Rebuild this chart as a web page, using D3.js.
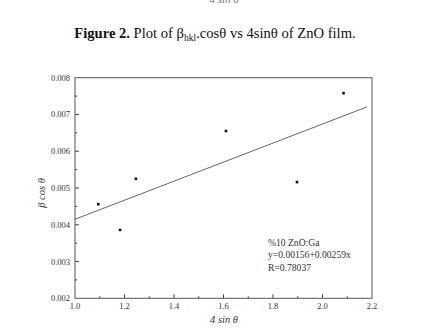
<!DOCTYPE html>
<html lang="en">
<head>
<meta charset="UTF-8">
<script src="https://d3js.org/d3.v7.min.js"></script>
<style>
  body { margin: 0; background: #fff; }
  svg text { font-family: "Liberation Serif", "DejaVu Serif", serif; }
  .tick-label { font-size: 8.5px; fill: #333; }
  .note { font-size: 9.6px; fill: #333; }
</style>
</head>
<body>
<div id="chart"></div>
<script>
  // Data
  const xValues = [1.094, 1.182, 1.246, 1.61, 1.897, 2.085];
  const yValues = [0.00456, 0.00386, 0.00525, 0.00655, 0.00516, 0.00758];
  const fitIntercept = 0.00156;
  const fitSlope = 0.00259;
  const fitRange = [1.0, 2.18];
  const xTicks = [1.0, 1.2, 1.4, 1.6, 1.8, 2.0, 2.2];
  const yTicks = [0.002, 0.003, 0.004, 0.005, 0.006, 0.007, 0.008];
  const notes = ["%10 ZnO:Ga", "y=0.00156+0.00259x", "R=0.78037"];

  const width = 425, height = 328;
  const plotLeft = 75, plotRight = 372, plotTop = 77.7, plotBottom = 298.3;

  const svg = d3.select("#chart").append("svg")
    .attr("width", width)
    .attr("height", height);

  // cut-off label from the figure above
  svg.append("text")
    .attr("x", 224).attr("y", 2.5)
    .attr("text-anchor", "middle")
    .attr("font-style", "italic")
    .attr("font-size", 11)
    .attr("fill", "#777")
    .text("4 sin θ");

  // caption
  const cap = svg.append("text")
    .attr("x", 215).attr("y", 38)
    .attr("text-anchor", "middle")
    .attr("font-size", 14.6)
    .attr("fill", "#111");
  cap.append("tspan").attr("font-weight", "bold").text("Figure 2.");
  cap.append("tspan").text(" Plot of β");
  cap.append("tspan").attr("font-size", 9.5).attr("dy", 3).text("hkl");
  cap.append("tspan").attr("dy", -3).text(".cosθ vs 4sinθ of ZnO film.");

  const x = d3.scaleLinear().domain([1.0, 2.2]).range([plotLeft, plotRight]);
  const y = d3.scaleLinear().domain([0.002, 0.008]).range([plotBottom, plotTop]);

  // frame
  svg.append("rect")
    .attr("x", plotLeft).attr("y", plotTop)
    .attr("width", plotRight - plotLeft).attr("height", plotBottom - plotTop)
    .attr("fill", "none")
    .attr("stroke", "#555")
    .attr("stroke-width", 1);

  // x axis ticks (inward)
  const xMinor = d3.range(1.1, 2.2, 0.2);
  svg.append("g").selectAll("line").data(xTicks.slice(1, -1)).join("line")
    .attr("x1", d => x(d)).attr("x2", d => x(d))
    .attr("y1", plotBottom).attr("y2", plotBottom - 4)
    .attr("stroke", "#444");
  svg.append("g").selectAll("line").data(xMinor).join("line")
    .attr("x1", d => x(d)).attr("x2", d => x(d))
    .attr("y1", plotBottom).attr("y2", plotBottom - 2)
    .attr("stroke", "#444");
  svg.append("g").selectAll("text").data(xTicks).join("text")
    .attr("class", "tick-label")
    .attr("x", d => x(d)).attr("y", plotBottom + 11)
    .attr("text-anchor", "middle")
    .text(d => d3.format(".1f")(d));

  // y axis ticks (inward)
  const yMinor = d3.range(0.0025, 0.008, 0.001);
  svg.append("g").selectAll("line").data(yTicks.slice(1, -1)).join("line")
    .attr("x1", plotLeft).attr("x2", plotLeft + 4)
    .attr("y1", d => y(d)).attr("y2", d => y(d))
    .attr("stroke", "#444");
  svg.append("g").selectAll("line").data(yMinor).join("line")
    .attr("x1", plotLeft).attr("x2", plotLeft + 2)
    .attr("y1", d => y(d)).attr("y2", d => y(d))
    .attr("stroke", "#444");
  svg.append("g").selectAll("text").data(yTicks).join("text")
    .attr("class", "tick-label")
    .attr("x", plotLeft - 5).attr("y", d => y(d))
    .attr("dy", "0.35em")
    .attr("text-anchor", "end")
    .text(d => d3.format(".3f")(d));

  // axis titles
  svg.append("text")
    .attr("x", 224).attr("y", 323)
    .attr("text-anchor", "middle")
    .attr("font-style", "italic")
    .attr("font-size", 10.5)
    .attr("fill", "#333")
    .text("4 sin θ");
  svg.append("text")
    .attr("transform", "translate(45, 193) rotate(-90)")
    .attr("text-anchor", "middle")
    .attr("font-style", "italic")
    .attr("font-size", 10.5)
    .attr("fill", "#333")
    .text("β cos θ");

  // fit line
  const line = d3.line().x(d => x(d)).y(d => y(fitIntercept + fitSlope * d));
  svg.append("path")
    .attr("d", line(fitRange))
    .attr("fill", "none")
    .attr("stroke", "#555")
    .attr("stroke-width", 0.9);

  // points
  svg.append("g").selectAll("rect").data(xValues).join("rect")
    .attr("x", d => x(d) - 1.3)
    .attr("y", (d, i) => y(yValues[i]) - 1.3)
    .attr("width", 2.6).attr("height", 2.6)
    .attr("fill", "#111");

  // annotation
  svg.append("g").selectAll("text").data(notes).join("text")
    .attr("class", "note")
    .attr("x", 268)
    .attr("y", (d, i) => 246 + i * 12.3)
    .text(d => d);
</script>
</body>
</html>
